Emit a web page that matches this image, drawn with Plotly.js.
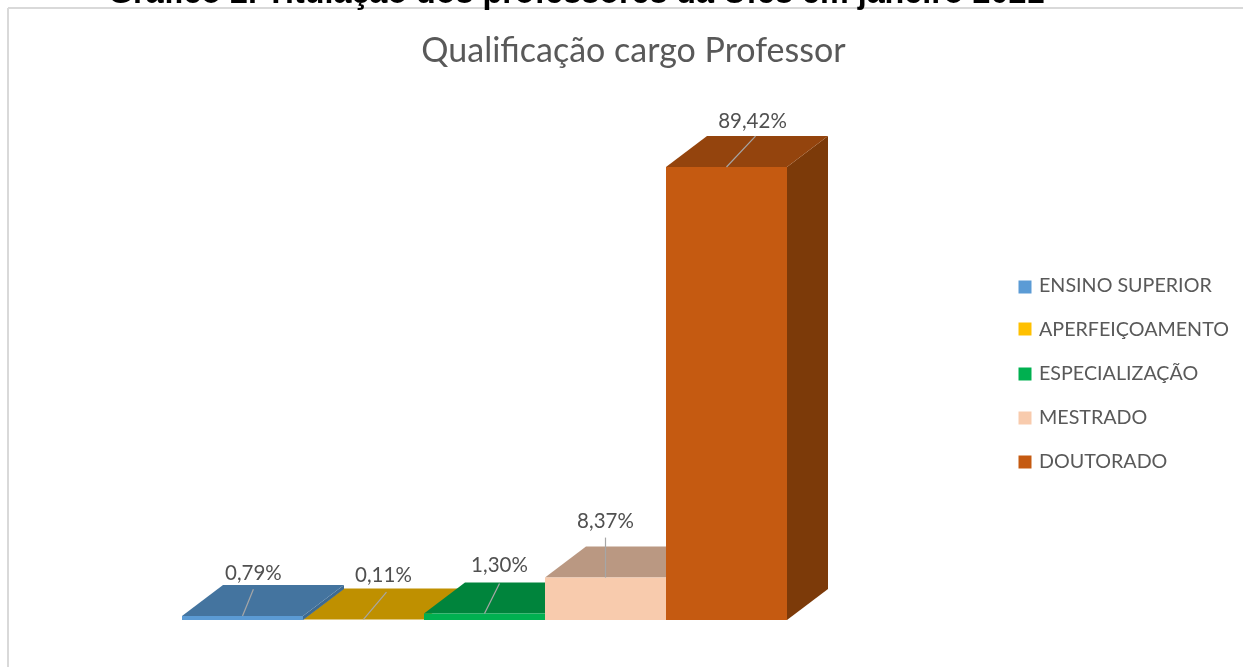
<!DOCTYPE html>
<html>
<head>
<meta charset="utf-8">
<script src="https://cdn.plot.ly/plotly-3.0.1.min.js"></script>
<style>html,body{margin:0;padding:0;background:#fff;overflow:hidden}#chart{width:1243px;height:667px;filter:blur(0.45px)}</style>
</head>
<body>
<div id="chart"></div>
<script>
// Data
const categories = ['ENSINO SUPERIOR', 'APERFEIÇOAMENTO', 'ESPECIALIZAÇÃO', 'MESTRADO', 'DOUTORADO'];
const values = [0.79, 0.11, 1.30, 8.37, 89.42];

// Styles
const frontColors = ['#5B9BD5', '#FFC000', '#00B050', '#F8CBAD', '#C55A11'];
const topColors = ['#44749F', '#BF9000', '#00843C', '#BA9882', '#94440D'];
const sideColors = ['#3D6A92', '#AD8300', '#007836', '#A98A76', '#7C3A09'];
const leaderDx = [0.09, 0.19, 0.124, 0, 0.24];
const leaderDy = [5.3, 5.4, 5.9, 7.9, 6.1];
const labelShift = [0, -0.025, 0, 0, -0.025];
const labelRise = [2.9, 3.1, 3.3, 2.9, 2.7];

// Axis scale: pixel frame of the whole figure
const W = 1243, H = 667, pxPerCat = 121, pxPerPct = 5.066, x0px = 182, y0px = 620;
const xr = [-x0px / pxPerCat, (W - x0px) / pxPerCat];
const yr = [(y0px - H) / pxPerPct, y0px / pxPerPct];
const depthX = 41 / pxPerCat, depthY = 31 / pxPerPct;
const u = px => (px - x0px) / pxPerCat;
const p = py => (y0px - py) / pxPerPct;

const font = 'Lato, "Open Sans", sans-serif';
const traces = [];
function poly(xs, ys, color) {
  traces.push({type: 'scatter', mode: 'lines', x: xs.concat(xs[0]), y: ys.concat(ys[0]), fill: 'toself',
    fillcolor: color, line: {width: 0, color: color}, hoverinfo: 'skip', showlegend: false});
}
// Paint low bars first so the taller neighbours overlap them
const order = categories.map((_, i) => i).sort((a, b) => values[a] - values[b]);
order.forEach(i => {
  const v = values[i];
  poly([i + 1, i + 1 + depthX, i + 1 + depthX, i + 1], [0, depthY, v + depthY, v], sideColors[i]);
  poly([i, i + depthX, i + 1 + depthX, i + 1], [v, v + depthY, v + depthY, v], topColors[i]);
  poly([i, i + 1, i + 1, i], [0, 0, v, v], frontColors[i]);
});
// Leader lines
categories.forEach((c, i) => {
  traces.push({type: 'scatter', mode: 'lines', x: [i + 0.5, i + 0.5 + leaderDx[i]], y: [values[i], values[i] + leaderDy[i]],
    line: {color: '#A6A6A6', width: 1.2}, hoverinfo: 'skip', showlegend: false});
});
// Value labels
traces.push({type: 'scatter', mode: 'text',
  x: categories.map((c, i) => i + 0.5 + leaderDx[i] + labelShift[i]),
  y: categories.map((c, i) => values[i] + leaderDy[i] + labelRise[i]),
  text: values.map(v => v.toFixed(2).replace('.', ',') + '%'),
  textposition: 'middle center', textfont: {family: font, size: 20.5, color: '#505050'},
  hoverinfo: 'skip', showlegend: false});
// Legend
const legendY = [287, 331, 375, 419, 463];
traces.push({type: 'scatter', mode: 'markers',
  x: categories.map(() => u(1025)), y: [287, 329, 374, 418, 462].map(p),
  marker: {symbol: 'square', size: 13, color: frontColors}, hoverinfo: 'skip', showlegend: false});
traces.push({type: 'scatter', mode: 'text',
  x: categories.map(() => u(1039)), y: legendY.map(p), text: categories,
  textposition: 'middle right', textfont: {family: font, size: 19.7, color: '#595959'},
  hoverinfo: 'skip', showlegend: false});

const layout = {
  width: W, height: H, margin: {l: 0, r: 0, t: 0, b: 0}, showlegend: false,
  paper_bgcolor: '#fff', plot_bgcolor: '#fff',
  title: {text: 'Qualificação cargo Professor', x: 633.5 / W, xanchor: 'center', y: 1 - 50 / H, yanchor: 'middle',
    font: {family: font, size: 34, color: '#595959'}},
  xaxis: {range: xr, visible: false, fixedrange: true},
  yaxis: {range: yr, visible: false, fixedrange: true},
  shapes: [
    {type: 'line', xref: 'paper', yref: 'paper', x0: 8 / W, x1: 1, y0: 1 - 8 / H, y1: 1 - 8 / H, line: {color: '#D9D9D9', width: 2}},
    {type: 'line', xref: 'paper', yref: 'paper', x0: 8 / W, x1: 8 / W, y0: 0, y1: 1 - 8 / H, line: {color: '#D9D9D9', width: 2}}
  ],
  annotations: [{text: '<b>Gráfico 2. Titulação dos professores da Ufes em janeiro 2021</b>', xref: 'paper', yref: 'paper',
    x: 575.5 / W, xanchor: 'center', y: 1 - 11 / H, yanchor: 'bottom', showarrow: false, borderpad: 0,
    font: {family: '"Liberation Sans", Arial, sans-serif', size: 32.3, color: '#000'}}]
};
Plotly.newPlot('chart', traces, layout, {displayModeBar: false, staticPlot: true});
</script>
</body>
</html>
